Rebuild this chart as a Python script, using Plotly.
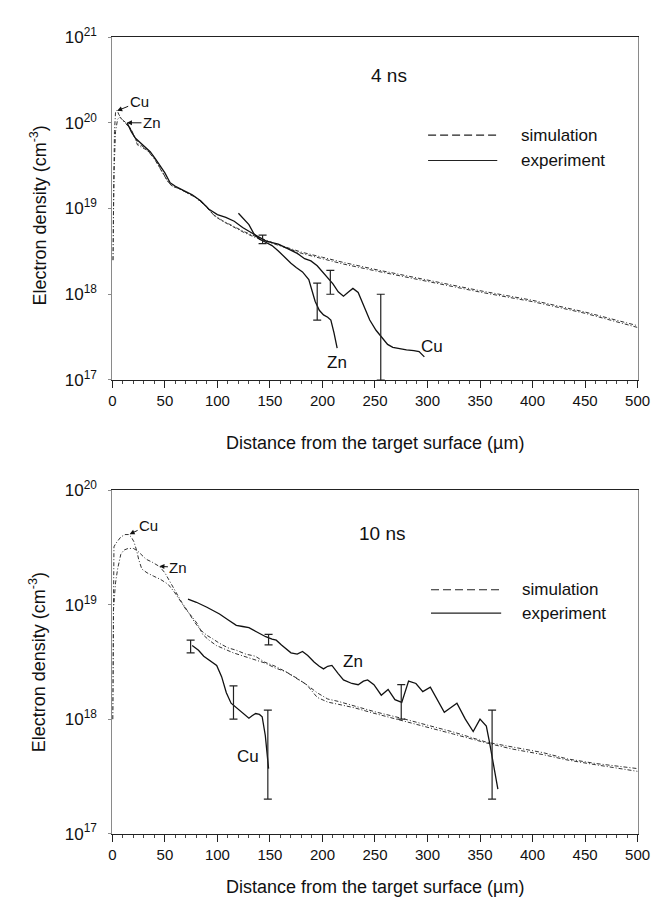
import plotly.graph_objects as go

# ---------------- 4 ns panel data ----------------
sim4_cu_x = [0.5, 1.2, 2.0, 3.0, 4.5, 6, 9, 13, 17, 21, 24, 27, 33, 40, 46, 52, 56, 62, 70, 78,
             87, 96, 105, 115, 125, 135, 145, 155, 165, 180, 200, 220, 250, 300, 350, 400, 450, 500]
sim4_cu = [2.5e18, 2.0e19, 7.9e19, 1.32e20, 1.41e20, 1.26e20, 1.10e20, 1.0e20, 8.7e19, 6.8e19,
           5.5e19, 5.25e19, 4.8e19, 3.8e19, 2.9e19, 2.14e19, 1.86e19, 1.74e19, 1.55e19, 1.38e19,
           1.12e19, 8.5e18, 7.2e18, 6.2e18, 5.4e18, 4.8e18, 4.3e18, 3.9e18, 3.55e18, 3.1e18,
           2.7e18, 2.35e18, 1.95e18, 1.45e18, 1.10e18, 8.5e17, 6.2e17, 4.3e17]

sim4_zn_x = [0.5, 1.5, 3, 5, 7, 10, 14, 18, 22, 25, 28, 34, 41, 47, 53, 58, 64, 72, 80, 90,
             97, 106, 116, 126, 136, 146, 156, 166, 180, 200, 220, 250, 300, 350, 400, 450, 500]
sim4_zn = [2.5e18, 2.5e19, 7.9e19, 1.10e20, 1.17e20, 1.07e20, 9.5e19, 8.3e19, 6.6e19, 5.6e19,
           5.4e19, 4.7e19, 3.7e19, 2.8e19, 2.05e19, 1.8e19, 1.7e19, 1.5e19, 1.33e19, 1.05e19,
           8.2e18, 7.0e18, 6.0e18, 5.2e18, 4.6e18, 4.2e18, 3.8e18, 3.45e18, 3.0e18, 2.6e18,
           2.25e18, 1.88e18, 1.40e18, 1.06e18, 8.2e17, 6.0e17, 4.1e17]

exp4_cu_x = [14, 18, 22, 27, 31, 36, 41, 46, 50, 55, 60, 68, 76, 84, 92, 100, 108, 116, 124, 132,
             140, 146, 152, 158, 164, 170, 176, 183, 189, 195, 201, 206, 210, 215, 220, 225, 229,
             234, 239, 245, 251, 257, 262, 267, 274, 280, 287, 292, 297]
exp4_cu = [1.0e20, 7.9e19, 6.6e19, 5.75e19, 5.25e19, 4.6e19, 3.8e19, 3.1e19, 2.6e19, 2.0e19,
           1.82e19, 1.62e19, 1.45e19, 1.23e19, 9.8e18, 8.5e18, 7.9e18, 7.1e18, 6.0e18, 5.25e18,
           4.6e18, 4.2e18, 4.0e18, 3.85e18, 3.55e18, 3.25e18, 3.0e18, 2.6e18, 2.45e18, 2.15e18,
           1.76e18, 1.48e18, 1.32e18, 1.07e18, 9.5e17, 1.07e18, 1.17e18, 1.05e18, 7.6e17, 5.0e17,
           3.8e17, 3.1e17, 2.6e17, 2.4e17, 2.3e17, 2.24e17, 2.2e17, 2.14e17, 1.86e17]

exp4_zn_x = [120, 125, 130, 135, 140, 145, 152, 158, 164, 170, 175, 181, 187, 190, 193, 197,
             201, 205, 208, 211, 214]
exp4_zn = [8.8e18, 7.6e18, 6.5e18, 5.0e18, 4.4e18, 4.1e18, 3.7e18, 3.2e18, 2.7e18, 2.3e18,
           2.05e18, 1.82e18, 1.48e18, 1.07e18, 8.3e17, 6.5e17, 5.75e17, 5.4e17, 5.0e17, 3.55e17,
           2.35e17]

err4_x = [143, 195, 207.5, 255.5]
err4_lo = [3.9e18, 5.0e17, 1.0e18, 1.0e17]
err4_hi = [4.9e18, 1.35e18, 1.9e18, 1.0e18]

# ---------------- 10 ns panel data ----------------
sim10_cu_x = [0.3, 1.0, 1.5, 3, 5, 8, 12, 15.5, 18, 20.5, 23, 25, 28, 33, 39, 46, 53, 59, 65, 70,
              76, 81, 86, 92, 99, 106, 115, 125, 135, 145, 155, 165, 175, 185, 195, 205, 215,
              230, 250, 275, 300, 325, 356, 380, 410, 433, 460, 500]
sim10_cu = [1.0e18, 1.0e19, 3.2e19, 3.4e19, 3.6e19, 3.9e19, 4.1e19, 4.1e19, 3.9e19, 3.55e19,
            3.0e19, 2.5e19, 2.05e19, 1.9e19, 1.78e19, 1.66e19, 1.51e19, 1.29e19, 1.07e19, 9.1e18,
            7.8e18, 6.8e18, 5.5e18, 4.9e18, 4.4e18, 4.1e18, 3.8e18, 3.55e18, 3.3e18, 3.1e18,
            2.8e18, 2.6e18, 2.3e18, 2.0e18, 1.55e18, 1.41e18, 1.35e18, 1.26e18, 1.12e18, 9.8e17,
            8.5e17, 7.4e17, 6.2e17, 5.5e17, 4.9e17, 4.4e17, 4.0e17, 3.5e17]

sim10_zn_x = [0.3, 1, 3, 5, 8, 11, 15, 20, 24, 27, 32, 38, 45, 50, 55, 60, 66, 72, 78, 84, 90,
              96, 102, 110, 118, 127, 136, 145, 155, 165, 175, 185, 195, 205, 215, 230, 250, 275,
              300, 325, 356, 380, 410, 433, 460, 500]
sim10_zn = [1.0e18, 8.9e18, 1.55e19, 2.05e19, 2.75e19, 3.0e19, 3.1e19, 3.1e19, 2.95e19, 2.75e19,
            2.5e19, 2.35e19, 2.15e19, 1.9e19, 1.58e19, 1.29e19, 1.05e19, 8.7e18, 7.1e18, 6.0e18,
            5.4e18, 5.0e18, 4.6e18, 4.2e18, 4.0e18, 3.7e18, 3.55e18, 3.15e18, 2.9e18, 2.6e18,
            2.3e18, 2.0e18, 1.7e18, 1.5e18, 1.43e18, 1.3e18, 1.16e18, 1.02e18, 8.9e17, 7.7e17,
            6.3e17, 5.7e17, 5.1e17, 4.5e17, 4.1e17, 3.7e17]

exp10_zn_x = [72, 80, 90, 96, 102, 110, 118, 124, 130, 138, 146, 152, 156, 161, 166, 170, 176,
              181, 186, 192, 197, 201, 205, 209, 215, 220, 228, 234, 239, 243, 249, 256, 262.5,
              269, 275.5, 282, 289, 295.5, 302.7, 311, 316, 322, 328, 336, 343.5, 350, 356, 359,
              361, 364, 367]
exp10_zn = [1.12e19, 1.05e19, 9.5e18, 8.9e18, 8.3e18, 7.4e18, 6.6e18, 6.45e18, 6.3e18, 5.75e18,
            5.25e18, 5.0e18, 4.9e18, 4.45e18, 4.1e18, 3.8e18, 3.7e18, 3.9e18, 3.6e18, 3.16e18,
            2.9e18, 2.75e18, 2.9e18, 2.95e18, 2.5e18, 2.2e18, 2.05e18, 2.0e18, 2.15e18, 2.2e18,
            2.0e18, 1.62e18, 1.82e18, 1.48e18, 1.4e18, 2.15e18, 2.05e18, 1.74e18, 1.9e18, 1.38e18,
            1.15e18, 1.26e18, 1.38e18, 1.0e18, 7.8e17, 1.0e18, 8.7e17, 6.3e17, 5.0e17, 3.4e17,
            2.45e17]

exp10_cu_x = [76, 82, 87, 93, 99.3, 104, 108.5, 113, 118, 122.4, 126, 130, 133, 136.4, 140,
              142.6, 145.6, 148.7]
exp10_cu = [4.4e18, 4.0e18, 3.55e18, 3.25e18, 2.95e18, 2.35e18, 1.7e18, 1.38e18, 1.26e18,
            1.17e18, 1.1e18, 1.02e18, 1.07e18, 1.12e18, 1.1e18, 1.05e18, 7.2e17, 3.7e17]

err10_x = [74.5, 115.3, 148, 148.7, 275, 361.5]
err10_lo = [3.8e18, 1.0e18, 2.0e17, 4.45e18, 1.0e18, 2.0e17]
err10_hi = [4.9e18, 1.95e18, 1.2e18, 5.5e18, 2.0e18, 1.2e18]

x_ticks = [0, 50, 100, 150, 200, 250, 300, 350, 400, 450, 500]
y4_ticks = [1e17, 1e18, 1e19, 1e20, 1e21]
y4_labels = ["10<sup>17</sup>", "10<sup>18</sup>", "10<sup>19</sup>", "10<sup>20</sup>", "10<sup>21</sup>"]
y10_ticks = [1e17, 1e18, 1e19, 1e20]
y10_labels = ["10<sup>17</sup>", "10<sup>18</sup>", "10<sup>19</sup>", "10<sup>20</sup>"]

FONT = "Liberation Sans, Arial, sans-serif"
SIM_DASH = "4px,2px,1px,2px"

fig = go.Figure()


def add_panel(xa, ya, sims, exps, ex, elo, ehi):
    for sx, sy in sims:
        fig.add_trace(go.Scatter(x=sx, y=sy, mode="lines", xaxis=xa, yaxis=ya, showlegend=False,
                                 line=dict(color="#333333", width=1, dash=SIM_DASH)))
    for exx, exy in exps:
        fig.add_trace(go.Scatter(x=exx, y=exy, mode="lines", xaxis=xa, yaxis=ya, showlegend=False,
                                 line=dict(color="#111111", width=1.3)))
    fig.add_trace(go.Scatter(
        x=ex, y=elo, mode="markers", xaxis=xa, yaxis=ya, showlegend=False,
        marker=dict(size=1, color="rgba(0,0,0,0)"),
        error_y=dict(type="data", symmetric=False,
                     array=[h - l for h, l in zip(ehi, elo)],
                     arrayminus=[0] * len(elo),
                     color="#222222", thickness=1.2, width=4)))


add_panel("x", "y", [(sim4_cu_x, sim4_cu), (sim4_zn_x, sim4_zn)],
          [(exp4_cu_x, exp4_cu), (exp4_zn_x, exp4_zn)], err4_x, err4_lo, err4_hi)
add_panel("x2", "y2", [(sim10_cu_x, sim10_cu), (sim10_zn_x, sim10_zn)],
          [(exp10_cu_x, exp10_cu), (exp10_zn_x, exp10_zn)], err10_x, err10_lo, err10_hi)

W, H = 665, 901
xdom = [103 / W, 642 / W]
ydom_top = [1 - 369 / H, 1 - 17.5 / H]
ydom_bot = [1 - 834 / H, 1 - 482 / H]

xaxis_common = dict(range=[0, 500], tickvals=x_ticks, showgrid=False, zeroline=False,
                    showline=True, linecolor="#222222", linewidth=1, mirror=True,
                    ticks="outside", ticklen=7, tickcolor="#222222",
                    minor=dict(dtick=10, ticks="outside", ticklen=3, tickcolor="#444444"),
                    tickfont=dict(family=FONT, size=15, color="#111111"), domain=xdom)
yaxis_common = dict(type="log", showgrid=False, zeroline=False, showline=True,
                    linecolor="#8a8a8a", linewidth=1, mirror=True, ticks="outside", ticklen=3,
                    tickcolor="#8a8a8a", ticklabelstandoff=8,
                    tickfont=dict(family=FONT, size=17, color="#111111"))

fig.update_layout(
    width=W, height=H, margin=dict(l=0, r=0, t=0, b=0),
    paper_bgcolor="white", plot_bgcolor="white", showlegend=False,
    font=dict(family=FONT, color="#111111"),
    xaxis=dict(**xaxis_common, anchor="y"),
    yaxis=dict(**yaxis_common, range=[17, 21], tickvals=y4_ticks, ticktext=y4_labels,
               domain=ydom_top, anchor="x"),
    xaxis2=dict(**xaxis_common, anchor="y2"),
    yaxis2=dict(**yaxis_common, range=[17, 20], tickvals=y10_ticks, ticktext=y10_labels,
                domain=ydom_bot, anchor="x2"),
)

ann = []
# axis titles
for yc in [1 - 434 / H, 1 - 889 / H]:
    ann.append(dict(text="Distance from the target surface (µm)", xref="paper", yref="paper",
                    x=372.5 / W, y=yc, showarrow=False, xanchor="center", yanchor="middle",
                    font=dict(family=FONT, size=18)))
for yc in [1 - 200 / H, 1 - 658 / H]:
    ann.append(dict(text="Electron density (cm<sup>-3</sup>)", xref="paper", yref="paper",
                    x=27 / W, y=yc, showarrow=False, textangle=-90, xanchor="center",
                    yanchor="middle", font=dict(family=FONT, size=18)))

# panel labels
ann.append(dict(text="4 ns", xref="x", yref="y", x=263, y=20.55, showarrow=False,
                font=dict(family=FONT, size=19)))
ann.append(dict(text="10 ns", xref="x2", yref="y2", x=257, y=19.625, showarrow=False,
                font=dict(family=FONT, size=19)))

# curve labels (4 ns)
arrow = dict(showarrow=True, arrowhead=2, arrowsize=1, arrowwidth=1, arrowcolor="#111111",
             font=dict(family=FONT, size=15))
ann.append(dict(text="Cu", xref="x", yref="y", x=4.6, y=20.14, ax=22, ay=-9, **arrow))
ann.append(dict(text="Zn", xref="x", yref="y", x=13.9, y=20.0, ax=25, ay=0, **arrow))
ann.append(dict(text="Zn", xref="x", yref="y", x=213.4, y=17.20, showarrow=False,
                font=dict(family=FONT, size=17)))
ann.append(dict(text="Cu", xref="x", yref="y", x=304.3, y=17.39, showarrow=False,
                font=dict(family=FONT, size=17)))
# curve labels (10 ns)
ann.append(dict(text="Cu", xref="x2", yref="y2", x=16.4, y=19.616, ax=19, ay=-9, **arrow))
ann.append(dict(text="Zn", xref="x2", yref="y2", x=44.8, y=19.335, ax=19, ay=1, **arrow))
ann.append(dict(text="Zn", xref="x2", yref="y2", x=229, y=18.50, showarrow=False,
                font=dict(family=FONT, size=17)))
ann.append(dict(text="Cu", xref="x2", yref="y2", x=128.7, y=17.673, showarrow=False,
                font=dict(family=FONT, size=17)))

# legends
shapes = []
for (x0, x1, tx, ys, ye) in [(427, 498, 520, 118, 144), (430, 502, 521.7, 584, 608)]:
    shapes.append(dict(type="line", xref="paper", yref="paper", x0=x0 / W, x1=x1 / W,
                       y0=1 - ys / H, y1=1 - ys / H,
                       line=dict(color="#222222", width=1.2, dash="8px,4px")))
    shapes.append(dict(type="line", xref="paper", yref="paper", x0=x0 / W, x1=x1 / W,
                       y0=1 - ye / H, y1=1 - ye / H, line=dict(color="#222222", width=1.2)))
    ann.append(dict(text="simulation", xref="paper", yref="paper", x=tx / W, y=1 - ys / H,
                    xanchor="left", yanchor="middle", showarrow=False,
                    font=dict(family=FONT, size=17)))
    ann.append(dict(text="experiment", xref="paper", yref="paper", x=tx / W, y=1 - ye / H,
                    xanchor="left", yanchor="middle", showarrow=False,
                    font=dict(family=FONT, size=17)))

fig.update_layout(annotations=ann, shapes=shapes)
fig.write_html("out.html")
